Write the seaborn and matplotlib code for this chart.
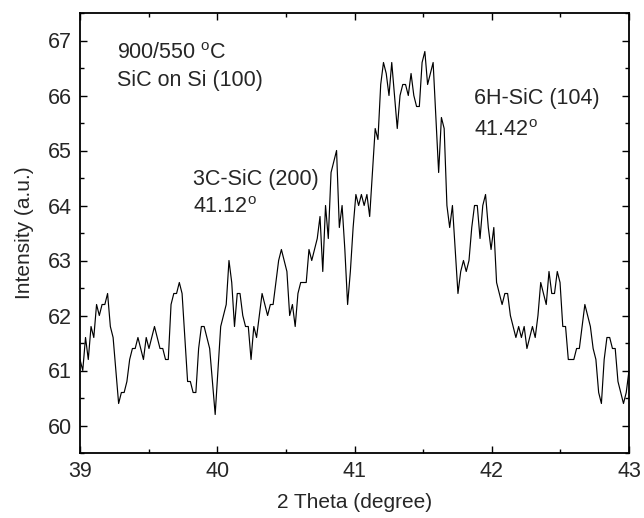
import numpy as np
import pandas as pd
import matplotlib
matplotlib.use("Agg")
import matplotlib.pyplot as plt
import seaborn as sns

# ---- data ----
theta_start = 39.0
theta_end = 43.0
intensity = [
    61.2, 61.0, 61.6, 61.2, 61.8, 61.6, 62.2, 62.0, 62.2, 62.2,
    62.4, 61.8, 61.6, 61.0, 60.4, 60.6, 60.6, 60.8, 61.2, 61.4,
    61.4, 61.6, 61.4, 61.2, 61.6, 61.4, 61.6, 61.8, 61.6, 61.4,
    61.4, 61.2, 61.2, 62.2, 62.4, 62.4, 62.6, 62.4, 61.6, 60.8,
    60.8, 60.6, 60.6, 61.4, 61.8, 61.8, 61.6, 61.4, 60.8, 60.2,
    61.0, 61.8, 62.0, 62.2, 63.0, 62.6, 61.8, 62.4, 62.4, 62.0,
    61.8, 61.8, 61.2, 61.8, 61.6, 62.0, 62.4, 62.2, 62.0, 62.2,
    62.2, 62.6, 63.0, 63.2, 63.0, 62.8, 62.0, 62.2, 61.8, 62.4,
    62.6, 62.6, 62.6, 63.2, 63.0, 63.2, 63.4, 63.8, 62.8, 64.0,
    63.4, 64.6, 64.8, 65.0, 63.6, 64.0, 63.2, 62.2, 62.8, 63.6,
    64.2, 64.0, 64.2, 64.0, 64.2, 63.8, 64.6, 65.4, 65.2, 66.2,
    66.6, 66.4, 66.0, 66.6, 66.0, 65.4, 66.0, 66.2, 66.2, 66.0,
    66.4, 66.0, 65.8, 65.8, 66.6, 66.8, 66.2, 66.4, 66.6, 65.6,
    64.6, 65.6, 65.4, 64.0, 63.6, 64.0, 63.2, 62.4, 62.8, 63.0,
    62.8, 63.0, 63.6, 64.0, 64.0, 63.4, 64.0, 64.2, 63.6, 63.2,
    63.6, 62.6, 62.4, 62.2, 62.4, 62.4, 62.0, 61.8, 61.6, 61.8,
    61.6, 61.8, 61.4, 61.6, 61.8, 61.6, 62.0, 62.6, 62.4, 62.2,
    62.8, 62.4, 62.4, 62.8, 62.6, 61.8, 61.8, 61.2, 61.2, 61.2,
    61.4, 61.4, 61.8, 62.2, 62.0, 61.8, 61.4, 61.2, 60.6, 60.4,
    61.2, 61.6, 61.6, 61.4, 61.4, 60.8, 60.6, 60.4, 60.6, 61.0,
]
x_ticks = [39, 40, 41, 42, 43]
y_ticks = [60, 61, 62, 63, 64, 65, 66, 67]
x_label = "2 Theta (degree)"
y_label = "Intensity (a.u.)"
note_sample = ["900/550 $^{\\mathrm{o}}$C", "SiC on Si (100)"]
note_3c = ["3C-SiC (200)", "41.12$^{\\mathrm{o}}$"]
note_6h = ["6H-SiC (104)", "41.42$^{\\mathrm{o}}$"]

theta = np.linspace(theta_start, theta_end, len(intensity))
df = pd.DataFrame({"theta": theta, "intensity": intensity})

sns.set_theme(style="ticks")
plt.rcParams["font.family"] = ["Liberation Sans", "DejaVu Sans"]
plt.rcParams["mathtext.fontset"] = "custom"
plt.rcParams["mathtext.rm"] = "Liberation Sans"
plt.rcParams["mathtext.it"] = "Liberation Sans:italic"

fig = plt.figure(figsize=(6.44, 5.18), dpi=100)
ax = fig.add_axes([80 / 644, 1 - 453 / 518, (629 - 80) / 644, (453 - 13) / 518])

sns.lineplot(data=df, x="theta", y="intensity", ax=ax, color="black",
             linewidth=0.85, estimator=None, sort=False)

ax.set_xlim(39, 43)
ax.set_ylim(59.5, 67.5)
ax.set_xticks(x_ticks)
ax.set_yticks(y_ticks)
ax.set_xticks(np.arange(39.5, 43, 1.0), minor=True)
ax.set_yticks(np.arange(59.5, 67.6, 1.0), minor=True)
ax.tick_params(which="both", direction="in", top=True, right=True,
               labeltop=False, labelright=False, color="black", width=1.0)
ax.tick_params(which="major", length=5, labelsize=15.5, pad=6)
ax.tick_params(which="minor", length=3)
for s in ax.spines.values():
    s.set_linewidth(1.3)
    s.set_color("black")

ax.set_xlabel(x_label, fontsize=15, labelpad=8)
ax.set_ylabel(y_label, fontsize=15, labelpad=10)

fs = 15.5
ax.text(39.27, 66.76, note_sample[0], fontsize=fs, va="center", ha="left")
ax.text(39.27, 66.27, note_sample[1], fontsize=fs, va="center", ha="left")
ax.text(39.82, 64.47, note_3c[0], fontsize=fs, va="center", ha="left")
ax.text(39.82, 63.96, note_3c[1], fontsize=fs, va="center", ha="left")
ax.text(41.87, 65.95, note_6h[0], fontsize=fs, va="center", ha="left")
ax.text(41.87, 65.37, note_6h[1], fontsize=fs, va="center", ha="left")

fig.savefig("out.png", dpi=100)
